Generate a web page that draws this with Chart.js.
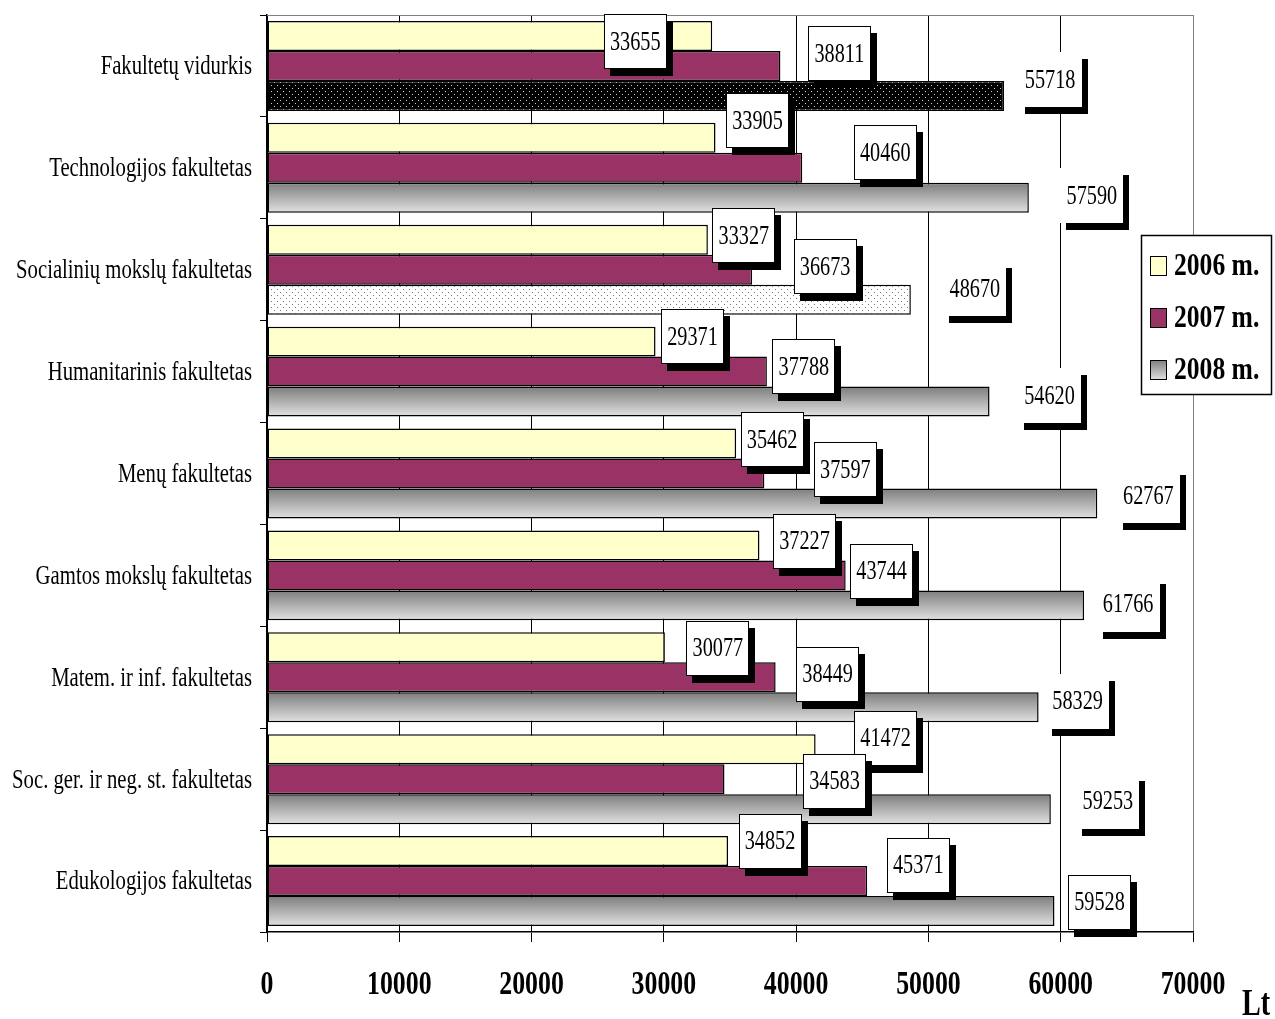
<!DOCTYPE html>
<html lang="lt">
<head>
<meta charset="utf-8">
<title>Vidutinis darbo užmokestis pagal fakultetus</title>
<script src="https://cdn.jsdelivr.net/npm/chart.js@4.4.1/dist/chart.umd.min.js"></script>
<style>
  html, body { margin: 0; padding: 0; background: #fff; }
  #wrap { width: 1275px; height: 1019px; position: relative; }
</style>
</head>
<body>
<div id="wrap"><canvas id="chart-faculty" width="1275" height="1019"></canvas></div>
<script>
const faculties = [
  "Fakultetų vidurkis",
  "Technologijos fakultetas",
  "Socialinių mokslų fakultetas",
  "Humanitarinis fakultetas",
  "Menų fakultetas",
  "Gamtos mokslų fakultetas",
  "Matem. ir inf. fakultetas",
  "Soc. ger. ir neg. st. fakultetas",
  "Edukologijos fakultetas",
];
const years = ["2006 m.", "2007 m.", "2008 m."];
const pay2006 = [33655, 33905, 33327, 29371, 35462, 37227, 30077, 41472, 34852];
const pay2007 = [38811, 40460, 36673, 37788, 37597, 43744, 38449, 34583, 45371];
const pay2008 = [55718, 57590, 48670, 54620, 62767, 61766, 58329, 59253, 59528];
const xTicks = [0, 10000, 20000, 30000, 40000, 50000, 60000, 70000];

// where each value box sits relative to the end of its bar (px)
const labelDx = [
  [-77, 42, 36, 37, 36, 45, 53, 70, 42],
  [59, 83, 73, 37, 81, 36, 52, 110, 51],
  [46, 63, 64, 60, 51, 44, 39, 57, 45],
];
const labelDy = [
  [6, -17, -4, -5, -4, -4, 1, -11, -10],
  [-12, -15, -3, -5, -4, -4, -3, 2, -16],
  [-16, -2, -11, -6, -8, -1, -6, -8, -9],
];
// 2008 boxes drawn without an outline
const noFrame2008 = [0, 1, 2, 3, 4, 5, 6, 7];

const COLORS = {
  y2006: "#FFFFCC",
  y2007: "#993366",
  grayTop: "#7d7d7d",
  grayBottom: "#e2e2e2",
  frame: "#808080",
  ink: "#000000",
};
const SERIF = '"Liberation Serif", "Times New Roman", serif';
const CAT_PCT = 0.883;

function dotPattern(bg, dot) {
  const c = document.createElement("canvas");
  c.width = 6;
  c.height = 6;
  const g = c.getContext("2d");
  g.fillStyle = bg;
  g.fillRect(0, 0, 6, 6);
  g.fillStyle = dot;
  g.fillRect(1, 1, 1, 1);
  g.fillRect(4, 4, 1, 1);
  return g.createPattern(c, "repeat");
}

const darkDots = dotPattern("#000", "#d0d0d0");
const lightDots = dotPattern("#fff", "#777");

function grayGradient(ctx, top, bottom) {
  const gr = ctx.createLinearGradient(0, top, 0, bottom);
  gr.addColorStop(0, COLORS.grayTop);
  gr.addColorStop(1, COLORS.grayBottom);
  return gr;
}

function fill2008(c) {
  const i = c.dataIndex;
  if (i === 0) return darkDots;
  if (i === 2) return lightDots;
  const chart = c.chart;
  const y = chart.scales.y;
  if (!y) return COLORS.grayBottom;
  const band = y.getPixelForValue(1) - y.getPixelForValue(0);
  const size = band * CAT_PCT;
  const chunk = size / 3;
  const top = y.getPixelForValue(i) - size / 2 + 2 * chunk;
  return grayGradient(chart.ctx, top, top + chunk);
}

// narrow Times-like lettering
function squeezeText(ctx, text, x, y, font, sx, align) {
  ctx.save();
  ctx.translate(x, y);
  ctx.scale(sx, 1);
  ctx.font = font;
  ctx.fillStyle = COLORS.ink;
  ctx.textAlign = align;
  ctx.textBaseline = "middle";
  ctx.fillText(text, 0, 0);
  ctx.restore();
}

const decorPlugin = {
  id: "decor",
  beforeDatasetsDraw(chart) {
    const { ctx, chartArea } = chart;
    ctx.save();
    ctx.strokeStyle = COLORS.frame;
    ctx.lineWidth = 1;
    ctx.beginPath();
    ctx.moveTo(chartArea.left, chartArea.top + 0.5);
    ctx.lineTo(chartArea.right, chartArea.top + 0.5);
    ctx.stroke();
    ctx.restore();
  },
  afterDatasetsDraw(chart) {
    const { ctx } = chart;
    const w = 63;
    const h = 55;
    chart.data.datasets.forEach((ds, di) => {
      const meta = chart.getDatasetMeta(di);
      meta.data.forEach((bar, i) => {
        const cx = bar.x + labelDx[di][i];
        const cy = bar.y + labelDy[di][i];
        const x0 = Math.round(cx - w / 2);
        const y0 = Math.round(cy - h / 2);
        ctx.save();
        ctx.fillStyle = COLORS.ink;
        ctx.fillRect(x0 + 6, y0 + 7, w, h);
        ctx.fillStyle = "#fff";
        ctx.fillRect(x0, y0, w, h);
        if (!(di === 2 && noFrame2008.includes(i))) {
          ctx.strokeStyle = COLORS.ink;
          ctx.lineWidth = 1;
          ctx.strokeRect(x0 + 0.5, y0 + 0.5, w - 1, h - 1);
        }
        ctx.restore();
        squeezeText(ctx, String(ds.data[i]), cx, cy + 1, "27px " + SERIF, 0.75, "center");
      });
    });
  },
  afterDraw(chart) {
    const { ctx, scales } = chart;
    // category names
    faculties.forEach((name, i) => {
      squeezeText(ctx, name, 252, scales.y.getPixelForValue(i) + 1, "28px " + SERIF, 0.74, "right");
    });
    // value axis numbers
    xTicks.forEach((v) => {
      squeezeText(ctx, String(v), scales.x.getPixelForValue(v), 985, "bold 34px " + SERIF, 0.76, "center");
    });
    squeezeText(ctx, "Lt", 1256, 1005, "bold 37px " + SERIF, 0.76, "center");

    // legend
    ctx.save();
    ctx.fillStyle = "#fff";
    ctx.fillRect(1141, 235, 131, 160);
    ctx.strokeStyle = COLORS.ink;
    ctx.lineWidth = 1.5;
    ctx.strokeRect(1141.5, 235.5, 130, 159);
    const swatches = [COLORS.y2006, COLORS.y2007, null];
    years.forEach((yr, k) => {
      const cy = 266 + k * 52;
      const sy = cy - 10;
      ctx.fillStyle = swatches[k] || grayGradient(ctx, sy, sy + 20);
      ctx.fillRect(1150, sy, 17, 20);
      ctx.lineWidth = 1;
      ctx.strokeRect(1150.5, sy + 0.5, 16, 19);
      squeezeText(ctx, yr, 1174, cy + 1, "bold 32px " + SERIF, 0.8, "left");
    });
    ctx.restore();
  },
};

function initChart() {
  const canvas = document.getElementById("chart-faculty");
  new Chart(canvas, {
    type: "bar",
    data: {
      labels: faculties,
      datasets: [
        {
          label: years[0],
          data: pay2006,
          backgroundColor: COLORS.y2006,
        },
        {
          label: years[1],
          data: pay2007,
          backgroundColor: COLORS.y2007,
        },
        {
          label: years[2],
          data: pay2008,
          backgroundColor: fill2008,
        },
      ],
    },
    options: {
      indexAxis: "y",
      responsive: false,
      animation: false,
      events: [],
      layout: { padding: { left: 260, right: 82, top: 15, bottom: 77 } },
      datasets: {
        bar: {
          borderColor: COLORS.ink,
          borderWidth: 1.5,
          borderSkipped: false,
          categoryPercentage: CAT_PCT,
          barPercentage: 1.0,
        },
      },
      plugins: {
        legend: { display: false },
        tooltip: { enabled: false },
      },
      scales: {
        x: {
          min: 0,
          max: 70000,
          ticks: { display: false, stepSize: 10000 },
          grid: {
            color: (c) => (c.tick && c.tick.value === 70000 ? COLORS.frame : COLORS.ink),
            tickColor: COLORS.ink,
            tickLength: 10,
            lineWidth: 1,
          },
          border: { color: COLORS.ink, width: 1.5 },
        },
        y: {
          ticks: { display: false },
          grid: {
            drawOnChartArea: false,
            tickColor: COLORS.ink,
            tickLength: 7,
            offset: true,
          },
          border: { color: COLORS.ink, width: 1.5 },
        },
      },
    },
    plugins: [decorPlugin],
  });
}

document.addEventListener("DOMContentLoaded", initChart);
</script>
</body>
</html>
